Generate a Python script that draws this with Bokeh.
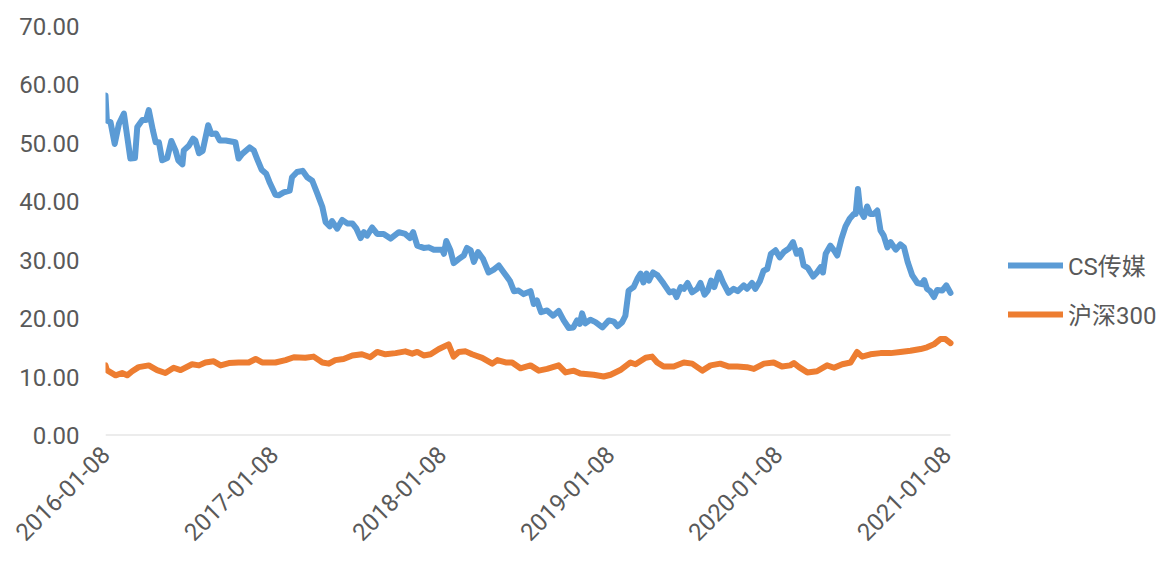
from math import pi
import pandas as pd
from bokeh.plotting import figure
from bokeh.models import (Range1d, FixedTicker, DatetimeTickFormatter, Legend, LegendItem,
                          ColumnDataSource, NumeralTickFormatter)
from bokeh.embed import file_html
from bokeh.resources import INLINE

# ---------------- data ----------------
cs_dates = [
    "2016-01-08", "2016-01-11", "2016-01-19", "2016-01-28", "2016-02-06", "2016-02-17", "2016-03-02", "2016-03-12",
    "2016-03-17", "2016-03-28", "2016-04-05", "2016-04-11", "2016-04-20", "2016-04-26", "2016-05-03", "2016-05-10",
    "2016-05-21", "2016-05-30", "2016-06-08", "2016-06-14", "2016-06-23", "2016-06-26", "2016-07-07", "2016-07-16",
    "2016-07-21", "2016-07-29", "2016-08-06", "2016-08-18", "2016-08-25", "2016-09-04", "2016-09-12", "2016-09-25",
    "2016-10-16", "2016-10-23", "2016-10-31", "2016-11-16", "2016-11-25", "2016-12-02", "2016-12-12", "2016-12-22",
    "2016-12-29",
    "2017-01-11", "2017-01-18", "2017-01-29", "2017-02-11", "2017-02-16", "2017-02-27", "2017-03-11", "2017-03-21",
    "2017-04-01", "2017-04-12", "2017-04-23", "2017-04-30", "2017-05-09", "2017-05-14", "2017-05-25", "2017-06-05",
    "2017-06-16", "2017-06-27", "2017-07-06", "2017-07-15", "2017-07-22", "2017-07-29", "2017-08-09", "2017-08-20",
    "2017-09-03", "2017-09-18", "2017-10-06", "2017-10-20", "2017-10-30", "2017-11-06", "2017-11-15", "2017-11-29",
    "2017-12-10", "2017-12-21",
    "2018-01-08", "2018-01-12", "2018-01-17", "2018-01-26", "2018-02-02", "2018-02-13", "2018-02-24", "2018-03-03",
    "2018-03-11", "2018-03-18", "2018-03-27", "2018-04-07", "2018-04-19", "2018-04-30", "2018-05-11", "2018-05-22",
    "2018-06-04", "2018-06-13", "2018-06-23", "2018-07-04", "2018-07-19", "2018-07-26", "2018-08-02", "2018-08-11",
    "2018-08-24", "2018-09-06", "2018-09-18", "2018-09-29", "2018-10-10", "2018-10-20", "2018-10-28", "2018-11-03",
    "2018-11-08", "2018-11-15", "2018-11-26", "2018-12-07", "2018-12-22",
    "2019-01-05", "2019-01-16", "2019-01-24", "2019-02-03", "2019-02-10", "2019-02-17", "2019-02-28", "2019-03-08",
    "2019-03-15", "2019-03-21", "2019-03-28", "2019-04-02", "2019-04-11", "2019-04-21", "2019-05-04", "2019-05-17",
    "2019-05-26", "2019-06-01", "2019-06-10", "2019-06-17", "2019-06-25", "2019-07-05", "2019-07-16", "2019-07-23",
    "2019-08-01", "2019-08-08", "2019-08-15", "2019-08-22", "2019-09-01", "2019-09-10", "2019-09-22", "2019-10-03",
    "2019-10-12", "2019-10-25", "2019-11-01", "2019-11-12", "2019-11-19", "2019-11-29", "2019-12-07", "2019-12-15",
    "2019-12-23",
    "2020-01-02", "2020-01-11", "2020-01-20", "2020-01-31", "2020-02-09", "2020-02-17", "2020-02-25", "2020-03-03",
    "2020-03-12", "2020-03-24", "2020-04-01", "2020-04-09", "2020-04-14", "2020-04-20", "2020-04-30", "2020-05-08",
    "2020-05-15", "2020-05-24", "2020-06-02", "2020-06-11", "2020-06-20", "2020-06-24", "2020-06-29", "2020-07-04",
    "2020-07-12", "2020-07-19", "2020-07-26", "2020-08-02", "2020-08-10", "2020-08-17", "2020-08-24", "2020-09-01",
    "2020-09-08", "2020-09-19", "2020-09-29", "2020-10-07", "2020-10-15", "2020-10-25", "2020-11-05", "2020-11-15",
    "2020-11-20", "2020-11-26", "2020-12-03", "2020-12-11", "2020-12-18", "2020-12-29", "2021-01-07", "2021-01-16",
]
cs_values = [
    58.2, 53.9, 53.6, 49.9, 53.3, 55.1, 47.4, 47.5, 52.8, 54.0,
    54.0, 55.7, 52.2, 50.2, 50.2, 47.1, 47.5, 50.4, 48.8, 47.1,
    46.4, 48.8, 49.6, 50.8, 50.5, 48.3, 48.7, 53.1, 51.6, 51.7,
    50.5, 50.5, 50.2, 47.4, 48.2, 49.3, 48.8, 47.4, 45.5, 44.8,
    43.4,
    41.2, 41.1, 41.6, 41.9, 44.2, 45.1, 45.3, 44.2, 43.6, 41.4,
    39.1, 36.5, 35.8, 36.7, 35.4, 36.9, 36.3, 36.3, 35.4, 33.8,
    34.8, 34.2, 35.6, 34.5, 34.5, 33.7, 34.8, 34.5, 33.8, 34.8,
    32.5, 32.1, 32.2, 31.8,
    31.8, 31.1, 33.3, 31.7, 29.5, 30.2, 30.8, 32.1, 31.7, 29.7,
    31.4, 30.2, 27.9, 28.4, 29.1, 27.9, 26.5, 24.7, 24.8, 24.2,
    24.7, 22.5, 23.1, 21.1, 21.4, 20.5, 21.3, 19.7, 18.4, 18.5,
    19.7, 19.1, 20.9, 19.2, 19.8, 19.4, 18.5,
    19.7, 19.5, 18.7, 19.4, 20.5, 24.8, 25.4, 26.8, 27.7, 26.2,
    27.7, 26.5, 27.9, 27.4, 26.0, 24.5, 24.7, 23.7, 25.4, 25.1,
    26.1, 24.5, 25.1, 26.1, 24.1, 24.8, 26.5, 25.4, 27.9, 26.2,
    24.4, 25.1, 24.7, 25.7, 25.1, 26.1, 25.1, 26.4, 28.2, 28.5,
    31.1,
    31.7, 30.5, 31.4, 32.0, 33.1, 31.1, 31.7, 29.1, 28.7, 27.2,
    27.9, 28.8, 27.9, 31.1, 32.5, 31.7, 30.8, 33.6, 35.8, 37.1,
    37.9, 37.9, 42.2, 38.5, 37.4, 39.2, 37.9, 37.9, 38.5, 35.1,
    34.2, 32.2, 33.1, 31.8, 32.7, 32.2, 29.7, 27.4, 26.1, 25.9,
    26.6, 25.1, 24.7, 23.7, 24.9, 24.8, 25.7, 24.4,
]

hs_dates = [
    "2016-01-08", "2016-01-11", "2016-01-30", "2016-02-13", "2016-02-24", "2016-03-06", "2016-03-20", "2016-04-11",
    "2016-04-29", "2016-05-17", "2016-06-04", "2016-06-19", "2016-07-14", "2016-07-29", "2016-08-12", "2016-08-30",
    "2016-09-14", "2016-10-02", "2016-10-23", "2016-11-14", "2016-11-29", "2016-12-13",
    "2017-01-11", "2017-02-02", "2017-02-20", "2017-03-17", "2017-04-04", "2017-04-23", "2017-05-07", "2017-05-21",
    "2017-06-08", "2017-06-27", "2017-07-18", "2017-08-05", "2017-08-20", "2017-09-07", "2017-09-29", "2017-10-20",
    "2017-11-04", "2017-11-15", "2017-11-29", "2017-12-14",
    "2018-01-01", "2018-01-22", "2018-02-02", "2018-02-13", "2018-02-28", "2018-03-14", "2018-04-05", "2018-04-27",
    "2018-05-08", "2018-05-26", "2018-06-09", "2018-06-27", "2018-07-19", "2018-08-06", "2018-08-24", "2018-09-18",
    "2018-10-03", "2018-10-21", "2018-11-04", "2018-12-03", "2018-12-25",
    "2019-01-09", "2019-01-30", "2019-02-21", "2019-03-04", "2019-03-26", "2019-04-09", "2019-04-20", "2019-05-04",
    "2019-05-26", "2019-06-17", "2019-07-05", "2019-07-27", "2019-08-14", "2019-09-04", "2019-09-23", "2019-10-11",
    "2019-11-01", "2019-11-16", "2019-12-08", "2019-12-29",
    "2020-01-16", "2020-02-03", "2020-02-11", "2020-02-22", "2020-03-11", "2020-04-01", "2020-04-23", "2020-05-08",
    "2020-05-26", "2020-06-13", "2020-06-27", "2020-07-08", "2020-07-26", "2020-08-17", "2020-09-08", "2020-09-29",
    "2020-10-21", "2020-11-12", "2020-11-26", "2020-12-11", "2020-12-25", "2021-01-05", "2021-01-16",
]
hs_values = [
    12.0, 11.2, 10.3, 10.7, 10.3, 11.0, 11.7, 12.0, 11.2, 10.7, 11.6, 11.2, 12.2, 12.0, 12.5, 12.7,
    12.0, 12.4, 12.5, 12.5, 13.1, 12.5,
    12.5, 12.9, 13.4, 13.3, 13.5, 12.5, 12.3, 12.9, 13.1, 13.7, 13.9, 13.4, 14.3, 13.9, 14.1, 14.4,
    14.0, 14.3, 13.7, 13.9,
    14.8, 15.6, 13.5, 14.3, 14.4, 13.9, 13.3, 12.3, 12.9, 12.5, 12.5, 11.5, 12.0, 11.1, 11.4, 12.0,
    10.8, 11.1, 10.6, 10.4, 10.1,
    10.4, 11.2, 12.5, 12.2, 13.3, 13.5, 12.5, 11.8, 11.8, 12.5, 12.3, 11.1, 12.0, 12.3, 11.8, 11.8,
    11.7, 11.4, 12.3, 12.5,
    11.8, 12.0, 12.4, 11.7, 10.8, 11.0, 12.0, 11.6, 12.2, 12.5, 14.3, 13.5, 13.9, 14.1, 14.1, 14.3,
    14.5, 14.8, 15.1, 15.6, 16.5, 16.5, 15.8,
]

series_names = ["CS传媒", "沪深300"]
x_tick_labels = ["2016-01-08", "2017-01-08", "2018-01-08", "2019-01-08", "2020-01-08", "2021-01-08"]
y_ticks = [0, 10, 20, 30, 40, 50, 60, 70]

# ---------------- layout ----------------
FIG_W, FIG_H = 1165, 561
LEFT, TOP, BOTTOM = 105, 26, 126
PLOT_RIGHT = 950          # where the data area ends (px from left)
FRAME_RIGHT = FIG_W       # frame extended so the legend can live inside it
FONT = "Roboto, 'Noto Sans CJK SC', sans-serif"
FONT_SIZE = "24px"
TXT = "#595959"

cs_src = ColumnDataSource(dict(x=pd.to_datetime(cs_dates), y=cs_values))
hs_src = ColumnDataSource(dict(x=pd.to_datetime(hs_dates), y=hs_values))

x_start = pd.Timestamp(cs_dates[0])
x_end = pd.Timestamp(cs_dates[-1])
span = x_end - x_start
range_end = x_start + span * ((FRAME_RIGHT - LEFT) / (PLOT_RIGHT - LEFT))

p = figure(width=FIG_W, height=FIG_H, x_axis_type="datetime",
           x_range=Range1d(x_start, range_end), y_range=Range1d(0, 70),
           output_backend="svg", toolbar_location=None,
           min_border_left=LEFT, min_border_right=FIG_W - FRAME_RIGHT,
           min_border_top=TOP, min_border_bottom=BOTTOM)
p.outline_line_color = None
p.xgrid.visible = False
p.ygrid.visible = False
p.background_fill_color = "white"
p.border_fill_color = "white"

# baseline (category axis line) spanning the data period only
p.segment(x0=[x_start], y0=[0], x1=[x_end], y1=[0], line_color="#D9D9D9", line_width=2)

r1 = p.line("x", "y", source=cs_src, line_color="#5B9BD5", line_width=6,
            line_join="round", line_cap="round")
r2 = p.line("x", "y", source=hs_src, line_color="#ED7D31", line_width=6,
            line_join="round", line_cap="round")

# x axis
tick_ms = [pd.Timestamp(d).value // 10**6 for d in x_tick_labels]
p.xaxis.ticker = FixedTicker(ticks=tick_ms)
fmt = "%Y-%m-%d"
p.xaxis.formatter = DatetimeTickFormatter(milliseconds=fmt, seconds=fmt, minsec=fmt, minutes=fmt,
                                          hourmin=fmt, hours=fmt, days=fmt, months=fmt, years=fmt)
p.xaxis.major_label_orientation = pi / 4
p.xaxis.axis_line_color = None
p.xaxis.major_tick_line_color = None
p.xaxis.minor_tick_line_color = None
p.xaxis.major_label_text_font = FONT
p.xaxis.major_label_text_font_size = FONT_SIZE
p.xaxis.major_label_text_color = TXT
p.xaxis.major_label_standoff = 9

# y axis
p.yaxis.ticker = FixedTicker(ticks=y_ticks)
p.yaxis.formatter = NumeralTickFormatter(format="0.00")
p.yaxis.axis_line_color = None
p.yaxis.major_tick_line_color = None
p.yaxis.minor_tick_line_color = None
p.yaxis.major_label_text_font = FONT
p.yaxis.major_label_text_font_size = FONT_SIZE
p.yaxis.major_label_text_color = TXT
p.yaxis.major_label_standoff = 20

legend = Legend(items=[LegendItem(label=series_names[0], renderers=[r1]),
                       LegendItem(label=series_names[1], renderers=[r2])],
                location=(1008 - LEFT, 104), orientation="vertical",
                glyph_width=55, glyph_height=24, label_height=24, spacing=14,
                padding=0, margin=0, border_line_color=None, background_fill_alpha=0,
                label_text_font=FONT, label_text_font_size=FONT_SIZE, label_text_color=TXT,
                label_standoff=5)
p.add_layout(legend)

open("out.html", "w").write(file_html(p, INLINE))
